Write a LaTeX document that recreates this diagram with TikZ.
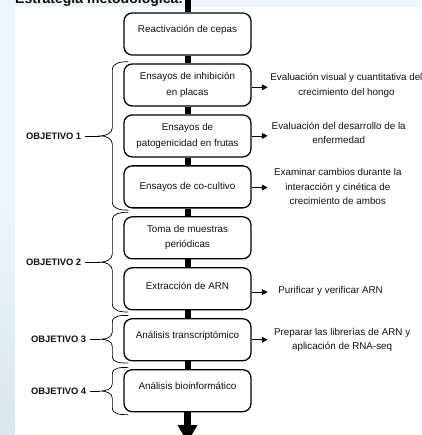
\documentclass[tikz,border=0pt]{standalone}
\usepackage{fontspec}
\setsansfont{Liberation Sans}
\usetikzlibrary{positioning, arrows.meta, calc}
\definecolor{clrborder}{HTML}{000000}
\definecolor{clrtext}{HTML}{111111}
\definecolor{clrsky}{HTML}{EEF6FB}
\definecolor{clrskylow}{HTML}{D9E7F1}

\begin{document}
\begin{tikzpicture}[
    every node/.style={font=\sffamily},
    block/.style={draw=clrborder, fill=white, rounded corners=7pt, minimum width=3.81cm,
                  minimum height=1.26cm, align=center, inner sep=2pt,
                  font=\sffamily\fontsize{8.4}{13}\selectfont, text=clrtext, line width=1.1pt},
    lifted/.style={text depth=0.3cm},
    bar/.style={line width=0.18cm, color=clrborder},
    bigarrow/.style={-{Triangle[width=0.56cm, length=0.52cm]}, line width=0.21cm, color=clrborder},
    sidearrow/.style={-{Triangle[width=5pt, length=5pt]}, line width=0.6pt, color=clrborder},
    result/.style={align=center, inner sep=1pt, font=\sffamily\fontsize{8.4}{12.5}\selectfont, text=clrtext},
    bracepath/.style={line width=0.6pt, color=clrborder},
    objlabel/.style={font=\sffamily\bfseries\fontsize{8}{10}\selectfont, text=clrtext},
]
\fill[clrsky] (0,0) rectangle (12.63,-13.05);
\shade[top color=clrsky, bottom color=clrskylow] (0,-6) rectangle (0.45,-13.05);
\fill[white] (0.45,-0.21) rectangle (12.63,-13.05);
\useasboundingbox (0,0) rectangle (12.63,-13.05);
\node[anchor=base west, inner sep=0, font=\sffamily\bfseries\fontsize{12}{14}\selectfont, text=clrtext] (n_title) at (0.45,-0.12) {Estrategia metodológica:};
\node[block, lifted] (n_1) at (5.625,-1.02) {Reactivación de cepas};
\node[block, below=0.23cm of n_1] (n_2) {Ensayos de inhibición\\en placas};
\node[block, below=0.23cm of n_2] (n_3) {Ensayos de\\patogenicidad en frutas};
\node[block, below=0.23cm of n_3] (n_4) {Ensayos de co-cultivo};
\node[block, below=0.23cm of n_4] (n_5) {Toma de muestras\\periódicas};
\node[block, lifted, text depth=0.18cm, below=0.23cm of n_5] (n_6) {Extracción de ARN};
\node[block, lifted, below=0.23cm of n_6] (n_7) {Análisis transcriptómico};
\node[block, lifted, below=0.23cm of n_7] (n_8) {Análisis bioinformático};
\coordinate (c_in) at ([yshift=0.6cm]n_1.north);
\coordinate (c_out) at ([yshift=-0.9cm]n_8.south);
\draw[bar] (c_in) -- (n_1.north);
\draw[bar] (n_1.south) -- (n_2.north);
\draw[bar] (n_2.south) -- (n_3.north);
\draw[bar] (n_3.south) -- (n_4.north);
\draw[bar] (n_4.south) -- (n_5.north);
\draw[bar] (n_5.south) -- (n_6.north);
\draw[bar] (n_6.south) -- (n_7.north);
\draw[bar] (n_7.south) -- (n_8.north);
\draw[bigarrow] (n_8.south) -- (c_out);
\draw[sidearrow] ([yshift=-0.07cm]n_2.east) -- ++(0.48,0) coordinate (a_2);
\draw[sidearrow] (n_3.east) -- ++(0.48,0) coordinate (a_3);
\draw[sidearrow] ([yshift=-0.02cm]n_4.east) -- ++(0.48,0) coordinate (a_4);
\draw[sidearrow] ([yshift=-0.1cm]n_6.east) -- ++(0.48,0) coordinate (a_6);
\draw[sidearrow] (n_7.east) -- ++(0.48,0) coordinate (a_7);
\node[result, right=0.04cm of a_2, yshift=0.06cm] (r_2) {Evaluación visual y cuantitativa del\\crecimiento del hongo};
\node[result, right=0.08cm of a_3, yshift=0.09cm] (r_3) {Evaluación del desarrollo de la\\enfermedad};
\node[result, right=0.15cm of a_4, yshift=0.03cm] (r_4) {Examinar cambios durante la\\interacción y cinética de\\crecimiento de ambos};
\node[result, right=0.28cm of a_6, yshift=0.03cm] (r_6) {Purificar y verificar ARN};
\node[result, right=0.15cm of a_7] (r_7) {Preparar las librerías de ARN y\\aplicación de RNA-seq};
\coordinate (b_1_top) at ([xshift=0.15cm, yshift=0.05cm]n_2.north west);
\coordinate (b_1_bot) at ([xshift=0.15cm, yshift=-0.05cm]n_4.south west);
\coordinate (b_1_tip) at ($(b_1_top)!0.5!(b_1_bot)+(-0.84,0)$);
\coordinate (b_2_top) at ([xshift=0.15cm, yshift=0.12cm]n_5.north west);
\coordinate (b_2_bot) at ([xshift=0.15cm, yshift=-0.05cm]n_6.south west);
\coordinate (b_2_tip) at ($(b_2_top)!0.5!(b_2_bot)+(-0.84,0)$);
\coordinate (b_3_top) at ([xshift=0.15cm, yshift=0.08cm]n_7.north west);
\coordinate (b_3_bot) at ([xshift=0.15cm, yshift=-0.05cm]n_7.south west);
\coordinate (b_3_tip) at ($(b_3_top)!0.5!(b_3_bot)+(-0.84,0)$);
\coordinate (b_4_top) at ([xshift=0.15cm, yshift=0.05cm]n_8.north west);
\coordinate (b_4_bot) at ([xshift=0.15cm, yshift=-0.07cm]n_8.south west);
\coordinate (b_4_tip) at ($(b_4_top)!0.5!(b_4_bot)+(-0.84,0)$);
\draw[bracepath] (b_1_top) to[out=180, in=90] ++(-0.48,-0.24) -- ($(b_1_tip)+(0.36,0.25)$) to[out=-90, in=0] (b_1_tip) to[out=0, in=90] ($(b_1_tip)+(0.36,-0.25)$) -- ($(b_1_bot)+(-0.48,0.24)$) to[out=-90, in=180] (b_1_bot);
\draw[bracepath] (b_2_top) to[out=180, in=90] ++(-0.48,-0.24) -- ($(b_2_tip)+(0.36,0.25)$) to[out=-90, in=0] (b_2_tip) to[out=0, in=90] ($(b_2_tip)+(0.36,-0.25)$) -- ($(b_2_bot)+(-0.48,0.24)$) to[out=-90, in=180] (b_2_bot);
\draw[bracepath] (b_3_top) to[out=180, in=90] ++(-0.48,-0.2) -- ($(b_3_tip)+(0.36,0.22)$) to[out=-90, in=0] (b_3_tip) to[out=0, in=90] ($(b_3_tip)+(0.36,-0.22)$) -- ($(b_3_bot)+(-0.48,0.2)$) to[out=-90, in=180] (b_3_bot);
\draw[bracepath] (b_4_top) to[out=180, in=90] ++(-0.48,-0.2) -- ($(b_4_tip)+(0.36,0.22)$) to[out=-90, in=0] (b_4_tip) to[out=0, in=90] ($(b_4_tip)+(0.36,-0.22)$) -- ($(b_4_bot)+(-0.48,0.2)$) to[out=-90, in=180] (b_4_bot);
\node[objlabel, left=0.45cm of b_1_tip] (o_1) {OBJETIVO 1};
\node[objlabel, left=0.45cm of b_2_tip] (o_2) {OBJETIVO 2};
\node[objlabel, left=0.3cm of b_3_tip] (o_3) {OBJETIVO 3};
\node[objlabel, left=0.3cm of b_4_tip] (o_4) {OBJETIVO 4};
\draw[bracepath] (o_1.east) -- (b_1_tip);
\draw[bracepath] (o_2.east) -- (b_2_tip);
\draw[bracepath] (o_3.east) -- (b_3_tip);
\draw[bracepath] (o_4.east) -- (b_4_tip);
\end{tikzpicture}
\end{document}
